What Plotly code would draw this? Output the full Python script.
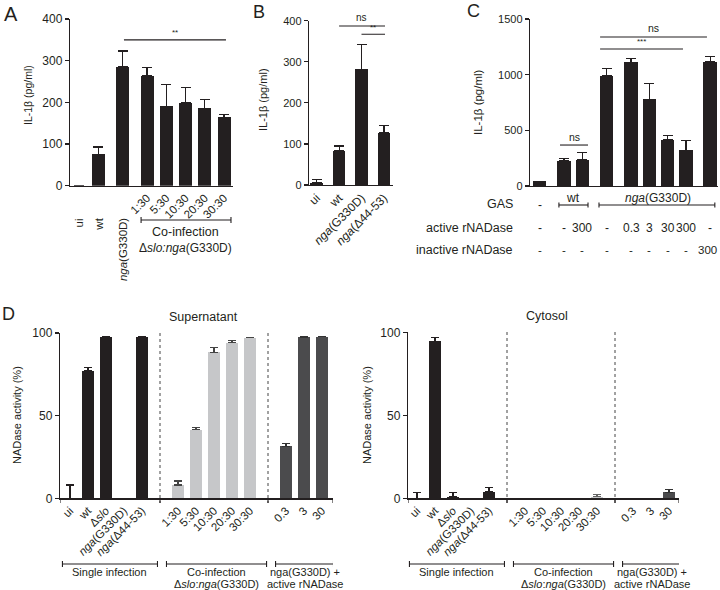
import plotly.graph_objects as go

W, H = 720, 590
FONT = "Liberation Sans, Arial, Helvetica, sans-serif"
INK = "#231f20"
LIGHT = "#c6c7c9"
DARK = "#4b4b4d"

# ---------------- data ----------------
A_cats = ["ui", "wt", "<i>nga</i>(G330D)", "1:30", "5:30", "10:30", "20:30", "30:30"]
A_vals = [0, 75, 286, 263, 191, 199, 186, 164]
A_top = [0, 93, 323, 284, 243, 235, 206, 171]

B_cats = ["ui", "wt", "<i>nga</i>(G330D)", "<i>nga</i>(Δ44-53)"]
B_vals = [6, 84, 282, 127]
B_top = [14, 95, 343, 145]

C_vals = [42, 225, 237, 988, 1110, 780, 417, 321, 1116]
C_top = [42, 246, 298, 1056, 1146, 921, 456, 411, 1161]
C_active = ["-", "-", "300", "-", "0.3", "3", "30", "300", "-"]
C_inactive = ["-", "-", "-", "-", "-", "-", "-", "-", "300"]

D_single = ["ui", "wt", "Δ<i>slo</i>", "<i>nga</i>(G330D)", "<i>nga</i>(Δ44-53)"]
D_co = ["1:30", "5:30", "10:30", "20:30", "30:30"]
D_rn = ["0.3", "3", "30"]

sup_single = [0, 77, 97.8, 0, 97.8]
sup_single_top = [8, 79, 97.8, 0, 97.8]
sup_co = [8, 41.5, 88.4, 94.1, 97.1]
sup_co_top = [10.5, 43, 91.2, 95.4, 97.5]
sup_rn = [31.5, 97.6, 97.8]
sup_rn_top = [33.1, 97.8, 98]

cyt_single = [0, 94.6, 1, 0, 4]
cyt_single_top = [3.6, 97, 3.6, 0, 6.4]
cyt_co = [0, 0, 0, 0, 1]
cyt_co_top = [0, 0, 0, 0, 2.3]
cyt_rn = [0, 0, 3.6]
cyt_rn_top = [0, 0, 5.4]


def fx(px):
    return px / W


def fy(py):
    return 1 - py / H


def positions(n, gaps_before, gap):
    out, p = [], 0.0
    for i in range(n):
        if i > 0:
            p += 1 + (gap if i in gaps_before else 0)
        out.append(p)
    return out


def err(vals, tops):
    return [max(t - v, 0) for v, t in zip(vals, tops)]


A_x = positions(len(A_cats), {2, 3}, 0.27)
B_x = positions(len(B_cats), set(), 0)
C_x = positions(len(C_vals), {1, 3, 4, 8}, 0.33)
D_x_single = [0, 1, 2, 3, 4]
D_x_co = [6, 7, 8, 9, 10]
D_x_rn = [12, 13, 14]

fig = go.Figure()


def bar(x, y, top, ax, color, width, ecolor=INK, ew=5):
    fig.add_trace(go.Bar(
        x=x, y=y, xaxis="x" + ax, yaxis="y" + ax, width=width,
        marker=dict(color=color, line=dict(width=0)),
        error_y=dict(type="data", symmetric=False, array=err(y, top),
                     arrayminus=[0] * len(y), color=ecolor, thickness=1.2, width=ew),
        showlegend=False, hoverinfo="skip"))


bar(A_x, A_vals, A_top, "", INK, 0.68)
bar(B_x, B_vals, B_top, "2", INK, 0.57)
bar(C_x, C_vals, C_top, "3", INK, 0.74)
bar(D_x_single, sup_single, sup_single_top, "4", INK, 0.72, ew=4)
bar(D_x_co, sup_co, sup_co_top, "4", LIGHT, 0.72, ecolor="#444", ew=4)
bar(D_x_rn, sup_rn, sup_rn_top, "4", DARK, 0.72, ecolor="#333", ew=4)
bar(D_x_single, cyt_single, cyt_single_top, "5", INK, 0.72, ew=4)
bar(D_x_co, cyt_co, cyt_co_top, "5", LIGHT, 0.72, ecolor="#666", ew=4)
bar(D_x_rn, cyt_rn, cyt_rn_top, "5", DARK, 0.72, ecolor="#333", ew=4)

axline = dict(showline=True, linecolor=INK, linewidth=1.2, showgrid=False, zeroline=False,
              automargin=False)


def yax(dom_top, dom_bot, rng, dtick, xa, fs=11):
    return dict(domain=[fy(dom_bot), fy(dom_top)], range=rng, dtick=dtick, anchor=xa,
                ticks="outside", ticklen=4, tickwidth=1.2, tickcolor=INK,
                tickfont=dict(family=FONT, size=fs, color=INK), **axline)


def xax(left, right, rng, ya, tickvals=None, ticktext=None, fs=11, angle=-45):
    d = dict(domain=[fx(left), fx(right)], range=rng, anchor=ya, ticks="",
             tickfont=dict(family=FONT, size=fs, color=INK), **axline)
    if tickvals is None:
        d["showticklabels"] = False
    else:
        d.update(tickmode="array", tickvals=tickvals, ticktext=ticktext, tickangle=angle)
    return d


uA = 19.25
oA = 78.9
uC = 18.3
oC = 539.7
layout = dict(
    template="none",
    width=W, height=H, margin=dict(l=0, r=0, t=0, b=0, pad=0, autoexpand=False),
    paper_bgcolor="white", plot_bgcolor="rgba(0,0,0,0)",
    font=dict(family=FONT, color=INK), bargap=0,
    xaxis=xax(70, 233, [(70 - oA) / uA, (233 - oA) / uA], "y", A_x[3:], A_cats[3:], 11.5),
    yaxis=yax(19, 185.7, [0, 400], 100, "x", 12),
    xaxis2=xax(309, 393, [(309 - 316.7) / 22.4, (393 - 316.7) / 22.4], "y2", B_x, B_cats, 12),
    yaxis2=yax(20.7, 185, [0, 400], 100, "x2"),
    xaxis3=xax(530, 718, [(530 - oC) / uC, (718 - oC) / uC], "y3"),
    yaxis3=yax(19, 186, [0, 1500], 500, "x3"),
    xaxis4=xax(60, 333, [(60 - 70) / 18, (333 - 70) / 18], "y4",
               D_x_single + D_x_co + D_x_rn, D_single + D_co + D_rn, 11.5),
    yaxis4=yax(333, 498.3, [0, 100], 50, "x4", 12),
    xaxis5=xax(408, 679, [(408 - 417) / 18, (679 - 417) / 18], "y5",
               D_x_single + D_x_co + D_x_rn, D_single + D_co + D_rn, 11.5),
    yaxis5=yax(332.3, 498.3, [0, 100], 50, "x5", 12),
)
fig.update_layout(**layout)

shapes = []
ann = []


def line(x0, y0, x1, y1, xref, yref, dash="solid", w=1.1, color=INK):
    shapes.append(dict(type="line", x0=x0, y0=y0, x1=x1, y1=y1, xref=xref, yref=yref,
                       line=dict(color=color, width=w, dash=dash)))


def text(x, y, s, size=11, xref="paper", yref="paper", xa="center", ya="middle", angle=0):
    ann.append(dict(x=x, y=y, text=s, xref=xref, yref=yref, xanchor=xa, yanchor=ya,
                    textangle=angle, showarrow=False,
                    font=dict(family=FONT, size=size, color=INK)))


def bracket(x0, x1, xref, ypx, cap=3):
    line(x0, fy(ypx), x1, fy(ypx), xref, "paper", w=1.1)
    line(x0, fy(ypx - cap), x0, fy(ypx + cap), xref, "paper", w=1.1)
    line(x1, fy(ypx - cap), x1, fy(ypx + cap), xref, "paper", w=1.1)


# panel letters
text(fx(11), fy(14), "A", 20)
text(fx(259), fy(12), "B", 18)
text(fx(473), fy(11), "C", 18)
text(fx(8), fy(314), "D", 18)

# y titles
text(fx(28), fy(95), "IL-1β (pg/ml)", 10.5, angle=-90)
text(fx(263), fy(100), "IL-1β (pg/ml)", 11, angle=-90)
text(fx(478), fy(102), "IL-1β (pg/ml)", 11.5, angle=-90)
text(fx(17), fy(415), "NADase activity (%)", 11, angle=-90)
text(fx(367), fy(415), "NADase activity (%)", 11, angle=-90)

# ---- panel A extras ----
for i in range(3):
    text(A_x[i], fy(216), A_cats[i], 11.5, xref="x", ya="top", angle=-90)
bracket(A_x[3] - 0.31, A_x[7] + 0.36, "x", 220)
text((A_x[3] + A_x[7]) / 2 + 0.02, fy(232), "Co-infection", 12.5, xref="x")
text((A_x[3] + A_x[7]) / 2 + 0.02, fy(248), "Δ<i>slo:nga</i>(G330D)", 12, xref="x")
line(A_x[2] + 0.07, 350, A_x[7] + 0.1, 350, "x", "y")
text((A_x[2] + A_x[7]) / 2 + 0.1, 352, "**", 8, xref="x", yref="y", ya="bottom")

# ---- panel B extras ----
line(B_x[1], 387, B_x[3] + 0.05, 387, "x2", "y2")
text((B_x[1] + B_x[3]) / 2, 389, "ns", 10, xref="x2", yref="y2", ya="bottom")
line(B_x[2], 367, B_x[3] + 0.05, 367, "x2", "y2")
text((B_x[2] + B_x[3]) / 2 + 0.03, 368, "**", 8, xref="x2", yref="y2", ya="bottom")

# ---- panel C extras ----
line(C_x[1] - 0.22, 368, C_x[2] + 0.31, 368, "x3", "y3")
text((C_x[1] + C_x[2]) / 2 + 0.05, 372, "ns", 10.5, xref="x3", yref="y3", ya="bottom")
line(C_x[3] - 0.36, 1230, C_x[7] - 0.16, 1230, "x3", "y3")
text((C_x[3] + C_x[7]) / 2 - 0.25, 1240, "***", 8, xref="x3", yref="y3", ya="bottom")
line(C_x[3] - 0.36, 1338, C_x[8] - 0.18, 1338, "x3", "y3")
text((C_x[3] + C_x[8]) / 2 - 0.27, 1345, "ns", 10.5, xref="x3", yref="y3", ya="bottom")

text(fx(515), fy(204), "GAS", 12.5, xa="right")
text(fx(515), fy(228), "active rNADase", 12.5, xa="right")
text(fx(515), fy(250), "inactive rNADase", 12.5, xa="right")
text(C_x[0], fy(205), "-", 12, xref="x3")
bracket(C_x[1] - 0.28, C_x[2] + 0.31, "x3", 205, cap=2.5)
text((C_x[1] + C_x[2]) / 2, fy(198), "wt", 12, xref="x3")
bracket(C_x[3] - 0.42, C_x[8] + 0.25, "x3", 205, cap=2.5)
text((C_x[3] + C_x[8]) / 2, fy(198), "<i>nga</i>(G330D)", 12, xref="x3")
for i in range(len(C_vals)):
    text(C_x[i], fy(228), C_active[i], 12, xref="x3")
    last = i == len(C_vals) - 1
    text(fx(719) if last else C_x[i], fy(250), C_inactive[i], 11.5,
         xref="paper" if last else "x3", xa="right" if last else "center")

# ---- panel D extras ----
text(fx(203), fy(317), "Supernatant", 12.5)
text(fx(547), fy(316), "Cytosol", 12.5)
for ax, top, start, end in (("x4", 333, (60 - 70) / 18, (333 - 70) / 18),
                            ("x5", 332, (408 - 417) / 18, (679 - 417) / 18)):
    for xv in (5, 11):
        line(xv, fy(top), xv, fy(503), ax, "paper", dash="dot", w=1, color="#444")
    for xv in (start, 5, 11, end):
        line(xv, fy(498.3), xv, fy(503), ax, "paper", w=1.1)
    bracket(-0.42, 4.86, ax, 564, cap=3)
    bracket(5.36, 10.92, ax, 564, cap=3)
    bracket(11.42, 14.64, ax, 564, cap=3)
    text(2.22, fy(572), "Single infection", 11, xref=ax)
    text(8.14, fy(572), "Co-infection", 11, xref=ax)
    text(8.14, fy(583.5), "Δ<i>slo</i>:<i>nga</i>(G330D)", 11, xref=ax)
    text(13.03, fy(572), "nga(G330D) +", 11, xref=ax)
    text(13.03, fy(583.5), "active rNADase", 11, xref=ax)

fig.update_layout(shapes=shapes, annotations=ann)
fig.write_html("out.html", config={"displayModeBar": False, "staticPlot": True},
               post_script="document.body.style.margin='0';document.body.style.padding='0';"
                           "document.body.style.overflow='hidden';")
